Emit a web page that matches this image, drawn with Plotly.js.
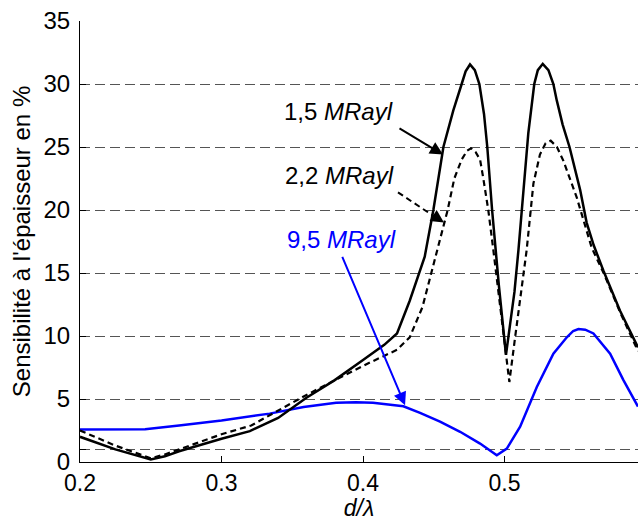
<!DOCTYPE html>
<html>
<head>
<meta charset="utf-8">
<script src="https://cdn.plot.ly/plotly-3.0.1.min.js"></script>
<style>html,body{margin:0;padding:0;background:#fff;}#chart{width:638px;height:521px;}</style>
</head>
<body>
<div id="chart"></div>
<script>
// 1,5 MRayl (solid black)
const x15 = [0.2, 0.225, 0.25, 0.26, 0.27, 0.28, 0.30, 0.32, 0.34, 0.36, 0.38, 0.40, 0.415, 0.424, 0.433, 0.4436, 0.4497, 0.4568, 0.4638, 0.4697, 0.4725, 0.4756, 0.479, 0.4822, 0.4855, 0.4878, 0.4912, 0.496, 0.501, 0.504, 0.507, 0.5098, 0.5135, 0.5168, 0.521, 0.5235, 0.527, 0.531, 0.5345, 0.5369, 0.541, 0.5459, 0.5534, 0.558, 0.563, 0.5698, 0.5816, 0.5943];
const y15 = [2.0, 1.0, 0.2, 0.45, 0.85, 1.2, 1.85, 2.45, 3.5, 5.1, 6.5, 8.1, 9.3, 10.2, 12.8, 16.3, 20.0, 25.0, 27.9, 30.0, 31.0, 31.55, 31.1, 30.0, 27.6, 25.0, 20.0, 14.0, 8.5, 11.0, 13.5, 16.8, 22.0, 26.1, 30.0, 31.1, 31.6, 31.1, 30.0, 28.7, 26.8, 25.0, 21.6, 19.0, 17.2, 15.2, 12.0, 9.1];
// 2,2 MRayl (dashed black)
const x22 = [0.2, 0.225, 0.25, 0.26, 0.28, 0.30, 0.321, 0.34, 0.358, 0.382, 0.405, 0.424, 0.433, 0.442, 0.4507, 0.4598, 0.4645, 0.4697, 0.4735, 0.4763, 0.4795, 0.4827, 0.485, 0.4885, 0.4921, 0.5034, 0.507, 0.511, 0.5156, 0.5204, 0.525, 0.529, 0.5326, 0.537, 0.5416, 0.551, 0.5616, 0.570, 0.582, 0.5943];
const y22 = [2.5, 1.3, 0.3, 0.6, 1.4, 2.2, 2.9, 4.1, 5.2, 6.6, 7.9, 8.9, 9.9, 12.3, 16.0, 20.0, 22.5, 24.0, 24.7, 24.9, 24.6, 24.0, 22.5, 20.0, 16.8, 6.35, 9.5, 13.1, 16.8, 22.1, 24.4, 25.3, 25.5, 25.0, 23.9, 21.0, 17.0, 15.0, 11.8, 8.8];
// 9,5 MRayl (blue)
const x95 = [0.2, 0.246, 0.27, 0.30, 0.334, 0.358, 0.381, 0.395, 0.407, 0.4285, 0.4403, 0.4544, 0.4686, 0.4827, 0.4945, 0.5016, 0.511, 0.5228, 0.5345, 0.544, 0.5485, 0.5522, 0.557, 0.5628, 0.5746, 0.584, 0.5943];
const y95 = [2.57, 2.6, 2.9, 3.3, 3.84, 4.37, 4.7, 4.75, 4.7, 4.42, 3.9, 3.2, 2.4, 1.46, 0.53, 1.06, 2.8, 5.95, 8.6, 9.9, 10.4, 10.55, 10.5, 10.2, 8.6, 6.5, 4.4];

const yTickVals = [0, 1, 5, 10, 15, 20, 25, 30, 35];
const yTickText = ['0', '', '5', '10', '15', '20', '25', '30', '35'];
const xTickVals = [0.2, 0.3, 0.4, 0.5];
const xTickText = ['0.2', '0.3', '0.4', '0.5'];

const FONT = 'Liberation Sans, Arial, sans-serif';
const FS = 24;

const traces = [
  {x: x95, y: y95, mode: 'lines', line: {color: '#0000ff', width: 2.5}, hoverinfo: 'skip'},
  {x: x22, y: y22, mode: 'lines', line: {color: '#000000', width: 2.2, dash: '6px,4px'}, hoverinfo: 'skip'},
  {x: x15, y: y15, mode: 'lines', line: {color: '#000000', width: 2.5}, hoverinfo: 'skip'}
];

const layout = {
  width: 638, height: 521,
  margin: {l: 80, r: 0, t: 21, b: 59},
  paper_bgcolor: '#ffffff', plot_bgcolor: '#ffffff',
  showlegend: false,
  font: {family: FONT, color: '#000', size: FS},
  xaxis: {
    range: [0.2, 0.5943],
    tickvals: xTickVals, ticktext: xTickText,
    ticks: 'inside', ticklen: 6, tickcolor: '#000', tickwidth: 1,
    showline: true, linecolor: '#000', linewidth: 1,
    showgrid: false, zeroline: false,
    tickfont: {family: FONT, size: 23, color: '#000'},
    ticklabelstandoff: 0,
    title: {text: '<i>d/λ</i>', font: {family: FONT, size: 23, color: '#000'}, standoff: 6}
  },
  yaxis: {
    range: [0, 35],
    tickvals: yTickVals, ticktext: yTickText,
    ticks: 'inside', ticklen: 6, tickcolor: '#000', tickwidth: 1,
    showline: true, linecolor: '#000', linewidth: 1,
    showgrid: true, gridcolor: '#555555', gridwidth: 1, griddash: '10px,5px',
    zeroline: false,
    tickfont: {family: FONT, size: FS, color: '#000'},
    ticklabelstandoff: 4,
    title: {text: "Sensibilité à l'épaisseur en %", font: {family: FONT, size: FS, color: '#000'}, standoff: 6}
  },
  shapes: [
    {type: 'line', xref: 'x', yref: 'y', x0: 0.4247, y0: 21.4, x1: 0.4535, y1: 19.25,
     line: {color: '#000', width: 2, dash: '6px,4px'}}
  ],
  annotations: [
    {x: 0.383, y: 27.8, xref: 'x', yref: 'y', text: '1,5 <i>MRayl</i>', showarrow: false,
     font: {family: FONT, size: FS, color: '#000'}},
    {x: 0.3837, y: 22.75, xref: 'x', yref: 'y', text: '2,2 <i>MRayl</i>', showarrow: false,
     font: {family: FONT, size: FS, color: '#000'}},
    {x: 0.3849, y: 17.67, xref: 'x', yref: 'y', text: '9,5 <i>MRayl</i>', showarrow: false,
     font: {family: FONT, size: FS, color: '#0000ff'}},
    {x: 0.4565, y: 24.4, xref: 'x', yref: 'y', ax: 0.4247, ay: 26.55, axref: 'x', ayref: 'y',
     text: '', showarrow: true, arrowhead: 2, arrowsize: 1.3, arrowwidth: 2, arrowcolor: '#000', standoff: 0},
    {x: 0.4572, y: 19.0, xref: 'x', yref: 'y', ax: -11, ay: -7.2,
     text: '', showarrow: true, arrowhead: 2, arrowsize: 1.3, arrowwidth: 2, arrowcolor: '#000', standoff: 0},
    {x: 0.4297, y: 4.5, xref: 'x', yref: 'y', ax: 0.3849, ay: 16.4, axref: 'x', ayref: 'y',
     text: '', showarrow: true, arrowhead: 2, arrowsize: 1.3, arrowwidth: 2, arrowcolor: '#0000ff', standoff: 0}
  ]
};

Plotly.newPlot('chart', traces, layout, {staticPlot: true, displayModeBar: false});
</script>
</body>
</html>
